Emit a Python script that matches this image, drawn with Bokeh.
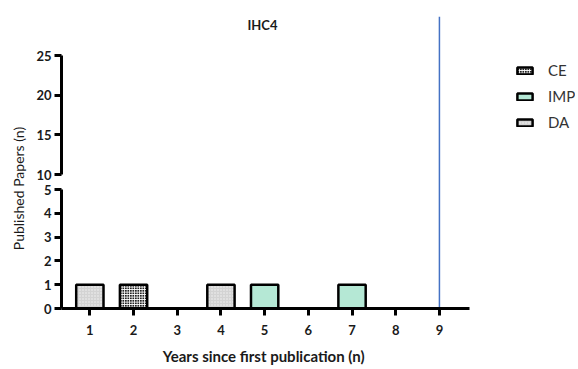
import math
from bokeh.plotting import figure
from bokeh.models import (ColumnDataSource, Range1d, LinearAxis, FixedTicker,
                          Label, Legend, LegendItem)
from bokeh.embed import file_html
from bokeh.resources import INLINE

# ---- data ----
years = [1, 2, 4, 5, 7]
papers = [1, 1, 1, 1, 1]
groups = ["DA", "CE", "DA", "IMP", "IMP"]
legend_order = ["CE", "IMP", "DA"]
x_ticks = [1, 2, 3, 4, 5, 6, 7, 8, 9]
y_ticks_low = [0, 1, 2, 3, 4, 5]
y_ticks_high = [10, 15, 20, 25]
cutoff_year = 9
title_text = "IHC4"
x_label = "Years since first publication  (n)"
y_label = "Published Papers (n)"

FONT = "Lato"
TXT = "#1a1a1a"

# axis extents in data units
X0, X1 = 0.352, 9.69
Y_LOW = (-2.521, 12.27)
Y_HIGH = (-14.455, 29.92)

styles = {
    "DA": dict(fill_color="#d3d3d3", hatch_pattern="dot", hatch_color="#f2f2f2", hatch_scale=3, hatch_weight=1),
    "CE": dict(fill_color="#222222", hatch_pattern="cross", hatch_color="#ffffff", hatch_scale=2.5, hatch_weight=1),
    "IMP": dict(fill_color="#b5e8d5"),
}

p = figure(width=575, height=368, output_backend="svg", toolbar_location=None,
           x_range=Range1d(-1.045, 12.114), y_range=Range1d(*Y_LOW),
           min_border_left=0, min_border_right=0, min_border_top=16, min_border_bottom=0)
p.extra_y_ranges = {"upper": Range1d(*Y_HIGH)}
p.outline_line_color = None
p.grid.visible = False
p.background_fill_color = "white"
p.border_fill_color = "white"

def style_axis(ax):
    ax.axis_line_width = 3
    ax.axis_line_color = "black"
    ax.major_tick_line_width = 3
    ax.major_tick_line_color = "black"
    ax.major_tick_out = 7
    ax.major_tick_in = 0
    ax.minor_tick_line_color = None
    ax.major_label_text_font = FONT
    ax.major_label_text_font_style = "bold"
    ax.major_label_text_font_size = "13px"
    ax.major_label_text_color = TXT

# x axis (drawn inside the plotting area at y = 0)
xa = p.xaxis[0]
style_axis(xa)
xa.ticker = FixedTicker(ticks=x_ticks)
xa.bounds = (X0, X1)
xa.fixed_location = 0
xa.axis_label = x_label
xa.axis_label_text_font = FONT
xa.axis_label_text_font_style = "bold"
xa.axis_label_text_font_size = "15px"
xa.axis_label_text_color = TXT
xa.axis_label_standoff = 9
xa.major_label_standoff = 9

# lower y axis
ya = p.yaxis[0]
style_axis(ya)
ya.ticker = FixedTicker(ticks=y_ticks_low)
ya.bounds = (y_ticks_low[0], y_ticks_low[-1])
ya.fixed_location = X0
ya.major_label_standoff = 3

# upper y axis (broken part)
yb = LinearAxis(y_range_name="upper", ticker=FixedTicker(ticks=y_ticks_high),
                bounds=(y_ticks_high[0], y_ticks_high[-1]), fixed_location=X0)
style_axis(yb)
yb.major_label_standoff = 3
p.add_layout(yb, "left")

# bars
renderers = {}
for g in legend_order:
    idx = [i for i, v in enumerate(groups) if v == g]
    src = ColumnDataSource(dict(x=[years[i] for i in idx], top=[papers[i] for i in idx]))
    renderers[g] = p.vbar(x="x", top="top", bottom=0, width=0.625, source=src,
                          line_color="black", line_width=2.5, **styles[g])

# cutoff line, from the x axis to the top of the plot
p.segment(x0=[cutoff_year], y0=[0], x1=[cutoff_year], y1=[Y_LOW[1]],
          line_color="#4472c4", line_width=1.5)

# legend
legend = Legend(items=[LegendItem(label=g, renderers=[renderers[g]]) for g in legend_order],
                location=(515, 236), padding=0, margin=0, spacing=6,
                glyph_width=19, glyph_height=9, label_height=20, label_standoff=14,
                label_text_font=FONT, label_text_font_size="15px", label_text_color="#333333",
                background_fill_alpha=0, border_line_color=None)
p.add_layout(legend, "center")

# title and y label (screen offsets from the plot area's lower-left corner)
p.add_layout(Label(x=262, y=344, x_units="screen", y_units="screen", text=title_text,
                   text_align="center", text_baseline="middle", text_font=FONT,
                   text_font_style="bold", text_font_size="13px", text_color=TXT))
p.add_layout(Label(x=18, y=180, x_units="screen", y_units="screen", text=y_label,
                   angle=math.pi / 2, text_align="center", text_baseline="middle",
                   text_font=FONT, text_font_size="14px", text_color=TXT))

open("out.html", "w").write(file_html(p, INLINE))
